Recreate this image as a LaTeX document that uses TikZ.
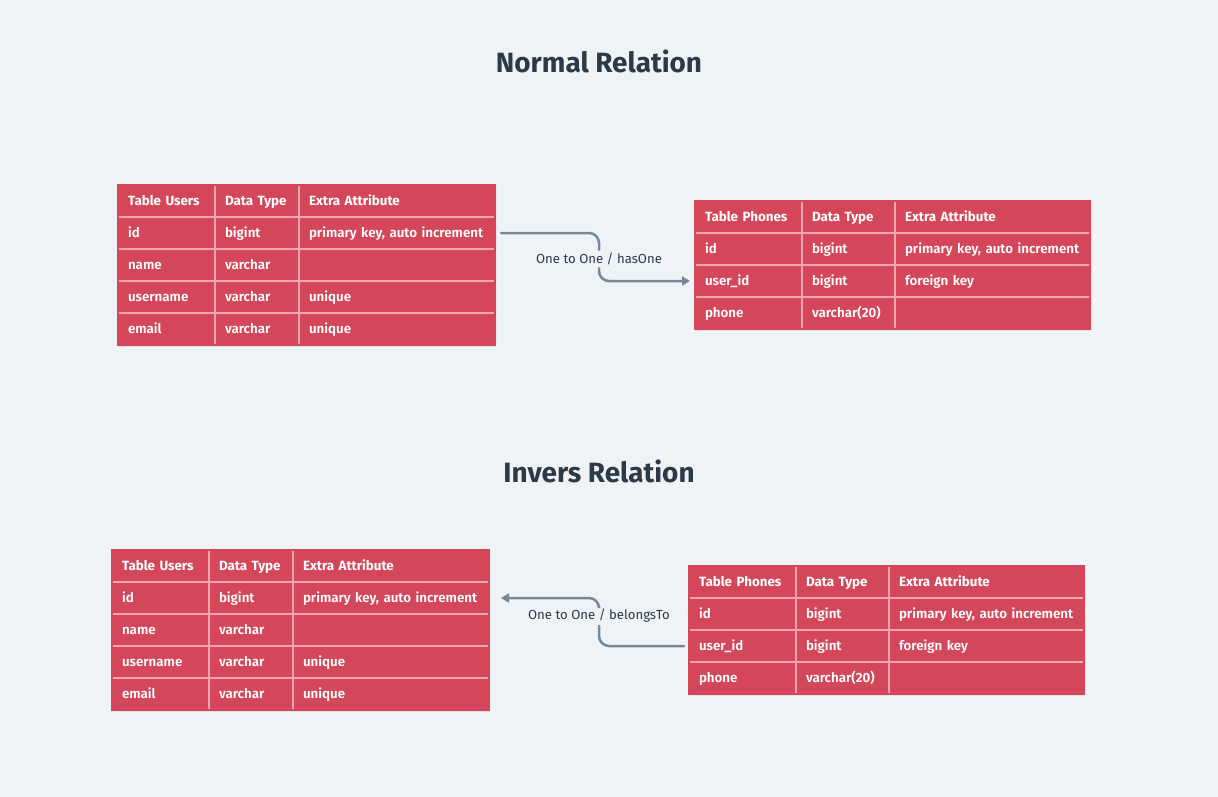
\documentclass[tikz,border=0pt]{standalone}
\usepackage{fontspec}
\setmainfont{Fira Sans}
\newfontfamily\cellfont{Fira Sans SemiBold}
\usetikzlibrary{arrows.meta,positioning}
\definecolor{pagebg}{RGB}{239,243,246}
\definecolor{tblred}{RGB}{212,71,90}
\definecolor{tblsep}{RGB}{240,165,175}
\definecolor{linkgray}{RGB}{120,136,153}
\definecolor{titlegray}{RGB}{44,58,72}

\begin{document}
\begin{tikzpicture}[x=1bp, y=-1bp,
    cell/.style={fill=tblred, draw=tblsep, line width=1.5bp, text=white, anchor=north west,
        font=\cellfont\fontsize{13.4}{15}\selectfont, minimum height=32bp, outer sep=0pt,
        inner xsep=10bp, inner ysep=0pt, align=left, text height=11bp, text depth=1.5bp},
    head/.style={cell, font=\bfseries\fontsize{13.4}{15}\selectfont},
    title/.style={font=\bfseries\fontsize{28}{32}\selectfont, text=titlegray},
    linklabel/.style={font=\fontsize{13.2}{15}\selectfont, text=titlegray, fill=pagebg, inner sep=3bp},
    link/.style={draw=linkgray, line width=2.5bp, rounded corners=10bp, line cap=round},
    tip/.style={-{Triangle[length=8bp,width=9bp]}}]
\fill[pagebg] (0,0) rectangle (1218,797);

\node[title] (normal) at (599,61) {Normal Relation};
\node[title] (invers) at (599,471) {Invers Relation};

% table shadows
\foreach \x/\y/\w/\h in {118/185/377/160, 112/550/377/160, 695/201/395/128, 689/566/395/128}
    \fill[black, opacity=0.07, rounded corners=2bp] (\x-1,\y) rectangle (\x+\w+1.5,\y+\h+2);

% users tables
\foreach \tn/\x/\y in {u1/118/185, u2/112/550}{
    \node[head, text width=77bp] (\tn-0-a) at (\x,\y) {Table Users};
    \node[head, text width=64bp] (\tn-0-b) at (\x+97,\y) {Data Type};
    \node[head, text width=176bp] (\tn-0-c) at (\x+181,\y) {Extra Attribute};
    \foreach \r/\a/\b/\c in {1/id/bigint/{primary key, auto increment}, 2/name/varchar/{},
            3/username/varchar/unique, 4/email/varchar/unique}{
        \node[cell, text width=77bp] (\tn-\r-a) at (\x,\y+32*\r) {\a};
        \node[cell, text width=64bp] (\tn-\r-b) at (\x+97,\y+32*\r) {\b};
        \node[cell, text width=176bp] (\tn-\r-c) at (\x+181,\y+32*\r) {\c};
    }
    \draw[tblred, line width=1.6bp] (\tn-0-a.north west) rectangle (\tn-4-c.south east);
}

% phones tables
\foreach \tn/\x/\y in {p1/695/201, p2/689/566}{
    \node[head, text width=87bp] (\tn-0-a) at (\x,\y) {Table Phones};
    \node[head, text width=73bp] (\tn-0-b) at (\x+107,\y) {Data Type};
    \node[head, text width=175bp] (\tn-0-c) at (\x+200,\y) {Extra Attribute};
    \foreach \r/\a/\b/\c in {1/id/bigint/{primary key, auto increment}, 2/user\_id/bigint/{foreign key},
            3/phone/{varchar(20)}/{}}{
        \node[cell, text width=87bp] (\tn-\r-a) at (\x,\y+32*\r) {\a};
        \node[cell, text width=73bp] (\tn-\r-b) at (\x+107,\y+32*\r) {\b};
        \node[cell, text width=175bp] (\tn-\r-c) at (\x+200,\y+32*\r) {\c};
    }
    \draw[tblred, line width=1.6bp] (\tn-0-a.north west) rectangle (\tn-3-c.south east);
}

% relations
\node[linklabel] (hasone) at (599,259) {One to One / hasOne};
\draw[link] ([xshift=6bp]u1-1-c.east) -| (hasone.north);
\draw[link, tip] (hasone.south) |- ([xshift=-5bp]p1-2-a.west);

\node[linklabel] (belongs) at (599,616) {One to One / belongsTo};
\draw[link] ([xshift=-5bp]p2-2-a.west) -| (belongs.south);
\draw[link, tip] (belongs.north) |- ([xshift=12bp]u2-1-c.east);
\end{tikzpicture}
\end{document}
